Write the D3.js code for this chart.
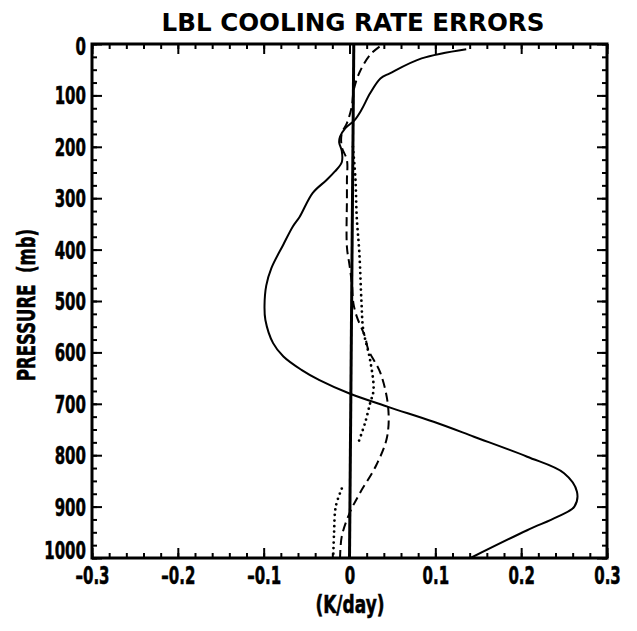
<!DOCTYPE html>
<html>
<head>
<meta charset="utf-8">
<script src="https://cdn.jsdelivr.net/npm/d3@7"></script>
<style>
  html, body { margin: 0; padding: 0; background: #fff; }
  svg { display: block; }
  .lbl { font-family: "DejaVu Sans", sans-serif; font-weight: bold; stroke: #000; stroke-width: 0.6px; }
</style>
</head>
<body>
<svg id="chart" width="637" height="631"></svg>
<script>
// ---- Data ----
const title = "LBL COOLING RATE ERRORS";
const xTickValues = [-0.3, -0.2, -0.1, 0, 0.1, 0.2, 0.3];
const xTickLabels = ["\u20130.3", "\u20130.2", "\u20130.1", "0", "0.1", "0.2", "0.3"];
const yTickValues = [0, 100, 200, 300, 400, 500, 600, 700, 800, 900, 1000];

// solid curve
const solidP = [10, 28, 57, 67, 96, 128, 148, 164, 180, 192, 208, 230, 248, 265, 290, 336, 355, 390, 436, 470, 508, 537, 582, 608, 634, 654, 680, 706, 735, 764, 803, 835, 871, 900, 920, 946, 1000];
const solidX = [0.136, 0.084, 0.047, 0.036, 0.024, 0.014, 0.006, -0.005, -0.011, -0.012, -0.009, -0.009, -0.017, -0.027, -0.043, -0.058, -0.066, -0.077, -0.091, -0.097, -0.099, -0.098, -0.089, -0.077, -0.056, -0.035, 0.0, 0.045, 0.098, 0.145, 0.207, 0.25, 0.265, 0.262, 0.242, 0.207, 0.141];

// dashed curve
const dashedP = [5, 21, 54, 89, 122, 154, 174, 200, 226, 265, 300, 395, 430, 470, 504, 530, 569, 595, 640, 706, 765, 820, 874, 913, 958, 1000];
const dashedX = [0.035, 0.024, 0.012, 0.005, 0.0026, -0.003, -0.009, -0.009, -0.003, -0.003, -0.003, -0.003, 0.0, 0.003, 0.0045, 0.0084, 0.018, 0.022, 0.036, 0.045, 0.0437, 0.031, 0.012, 0.0, -0.009, -0.011];

// dotted curve (two pieces)
const dottedUpperP = [200, 265, 336, 407, 504, 556, 615, 673, 699, 738, 777];
const dottedUpperX = [0.004, 0.007, 0.0084, 0.0115, 0.014, 0.016, 0.024, 0.028, 0.024, 0.018, 0.010];
const dottedLowerP = [865, 900, 952, 1000];
const dottedLowerX = [-0.009, -0.016, -0.018, -0.019];

// near-zero heavy line
const refP = [0, 1000];
const refX = [0.005, 0.0];

// ---- Layout ----
const svg = d3.select("#chart");
const mLeft = 92, mRight = 607, mTop = 44, mBottom = 558;
const narrow = 0.6;

const x = d3.scaleLinear().domain([-0.3, 0.3]).range([mLeft, mRight]);
const y = d3.scaleLinear().domain([0, 1000]).range([mTop, mBottom]);

function condense(sel, factor) {
  sel.each(function () {
    const w = this.getComputedTextLength();
    d3.select(this).attr("textLength", w * factor).attr("lengthAdjust", "spacingAndGlyphs");
  });
}

// title
svg.append("text")
  .attr("x", 353).attr("y", 31)
  .attr("text-anchor", "middle")
  .attr("textLength", 383).attr("lengthAdjust", "spacingAndGlyphs")
  .style("font-family", "'DejaVu Sans', sans-serif")
  .style("font-weight", "bold")
  .style("font-size", "24px")
  .text(title);

// minor ticks
const xMinor = d3.range(-0.3, 0.3001, 0.02);
const yMinor = d3.range(0, 1001, 25);

function styleAxis(g) {
  g.select(".domain").remove();
  g.selectAll(".tick line").attr("stroke", "#000").attr("stroke-width", 2);
}

svg.append("g").attr("transform", `translate(0,${mBottom})`)
  .call(d3.axisBottom(x).tickValues(xMinor).tickSize(-5).tickFormat(""))
  .call(styleAxis);
svg.append("g").attr("transform", `translate(0,${mTop})`)
  .call(d3.axisTop(x).tickValues(xMinor).tickSize(-5).tickFormat(""))
  .call(styleAxis);
svg.append("g").attr("transform", `translate(${mLeft},0)`)
  .call(d3.axisLeft(y).tickValues(yMinor).tickSize(-5).tickFormat(""))
  .call(styleAxis);
svg.append("g").attr("transform", `translate(${mRight},0)`)
  .call(d3.axisRight(y).tickValues(yMinor).tickSize(-5).tickFormat(""))
  .call(styleAxis);

// major ticks + labels
const xb = svg.append("g").attr("transform", `translate(0,${mBottom})`)
  .call(d3.axisBottom(x).tickValues(xTickValues).tickSize(-10).tickPadding(8)
    .tickFormat((d, i) => xTickLabels[i]))
  .call(styleAxis);
xb.selectAll("text").attr("class", "lbl").style("font-size", "25px").attr("fill", "#000")
  .call(condense, narrow);

svg.append("g").attr("transform", `translate(0,${mTop})`)
  .call(d3.axisTop(x).tickValues(xTickValues).tickSize(-10).tickFormat(""))
  .call(styleAxis);

const yl = svg.append("g").attr("transform", `translate(${mLeft},0)`)
  .call(d3.axisLeft(y).tickValues(yTickValues).tickSize(-10).tickPadding(6)
    .tickFormat(d3.format("d")))
  .call(styleAxis);
yl.selectAll("text").attr("class", "lbl").style("font-size", "25px").attr("fill", "#000")
  .attr("dy", d => d === 1000 ? "0em" : (d === 0 ? "0.4em" : "0.34em"))
  .call(condense, narrow);

svg.append("g").attr("transform", `translate(${mRight},0)`)
  .call(d3.axisRight(y).tickValues(yTickValues).tickSize(-10).tickFormat(""))
  .call(styleAxis);

// frame
svg.append("rect")
  .attr("x", mLeft).attr("y", mTop)
  .attr("width", mRight - mLeft).attr("height", mBottom - mTop)
  .attr("fill", "none").attr("stroke", "#000").attr("stroke-width", 3);

// axis titles
svg.append("text").attr("class", "lbl")
  .attr("x", 350).attr("y", 613)
  .attr("text-anchor", "middle")
  .style("font-size", "25px")
  .text("(K/day)")
  .call(condense, 0.68);

svg.append("text").attr("class", "lbl")
  .attr("transform", "translate(35,305) rotate(-90)")
  .attr("text-anchor", "middle")
  .style("font-size", "25px")
  .attr("xml:space", "preserve")
  .text("PRESSURE  (mb)")
  .call(condense, 0.66);

// lines
const toPts = (P, X) => P.map((p, i) => ({ p: p, v: X[i] }));
const line = d3.line().x(d => x(d.v)).y(d => y(d.p)).curve(d3.curveCatmullRom.alpha(0.5));

const plot = svg.append("g");

plot.append("path").datum(toPts(refP, refX))
  .attr("d", d3.line().x(d => x(d.v)).y(d => y(d.p)))
  .attr("fill", "none").attr("stroke", "#000").attr("stroke-width", 3);

plot.append("path").datum(toPts(solidP, solidX))
  .attr("d", line)
  .attr("fill", "none").attr("stroke", "#000").attr("stroke-width", 2);

plot.append("path").datum(toPts(dashedP, dashedX))
  .attr("d", line)
  .attr("fill", "none").attr("stroke", "#000").attr("stroke-width", 2)
  .attr("stroke-dasharray", "9,5");

[toPts(dottedUpperP, dottedUpperX), toPts(dottedLowerP, dottedLowerX)].forEach(pts => {
  plot.append("path").datum(pts)
    .attr("d", line)
    .attr("fill", "none").attr("stroke", "#000").attr("stroke-width", 2.8)
    .attr("stroke-linecap", "round")
    .attr("stroke-dasharray", "0,5.5");
});
</script>
</body>
</html>
